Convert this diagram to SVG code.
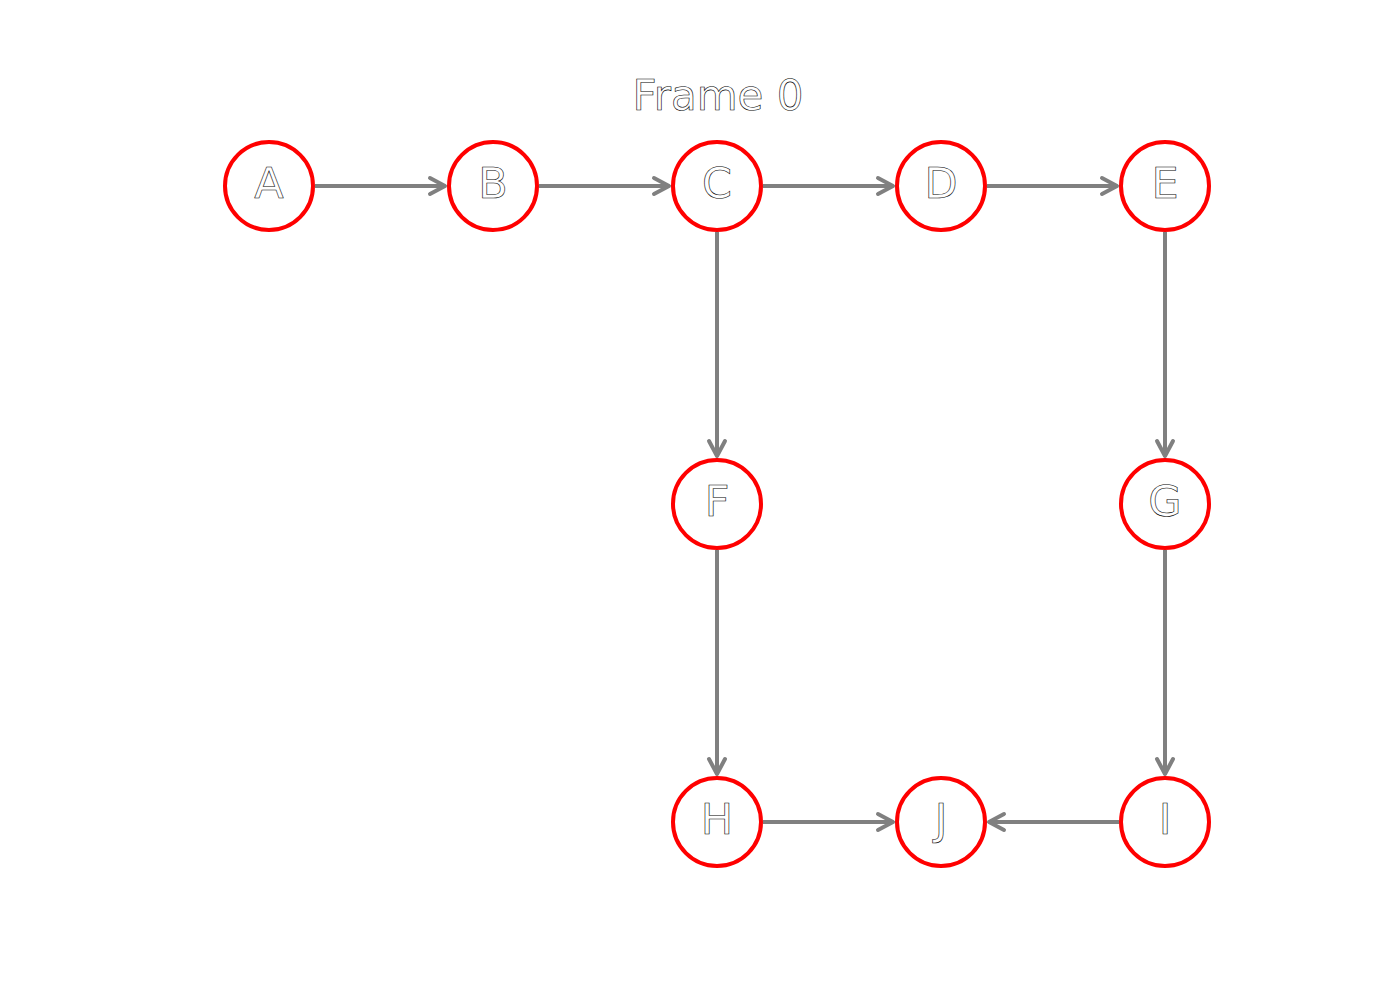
<svg xmlns="http://www.w3.org/2000/svg" width="1400" height="1000" viewBox="0 0 1400 1000">
<style>
.node circle{fill:#fff;stroke:#ff0000;stroke-width:4}
.lbl{font-family:"DejaVu Sans",sans-serif;font-size:43px;fill:#fff;stroke:#000;stroke-width:0.6;text-anchor:middle}
.title{font-family:"DejaVu Sans",sans-serif;font-size:42px;fill:#fff;stroke:#000;stroke-width:0.6;text-anchor:middle}
.edge{stroke:#808080;stroke-width:4;fill:none;marker-end:url(#arr)}
</style>
<defs>
<marker id="arr" markerUnits="userSpaceOnUse" markerWidth="30" markerHeight="30" viewBox="-20 -15 30 30" refX="0" refY="0" orient="auto">
<path d="M-15,-8 L0,0 L-15,8" fill="none" stroke="#808080" stroke-width="4" stroke-linecap="round" stroke-linejoin="round"/>
</marker>
</defs>
<rect width="1400" height="1000" fill="#fff"/>
<text class="title" x="718" y="110">Frame 0</text>
<g id="edges">
<line class="edge" x1="315" y1="186" x2="445" y2="186"/>
<line class="edge" x1="539" y1="186" x2="669" y2="186"/>
<line class="edge" x1="763" y1="186" x2="893" y2="186"/>
<line class="edge" x1="987" y1="186" x2="1117" y2="186"/>
<line class="edge" x1="717" y1="232" x2="717" y2="456"/>
<line class="edge" x1="1165" y1="232" x2="1165" y2="456"/>
<line class="edge" x1="717" y1="550" x2="717" y2="774"/>
<line class="edge" x1="1165" y1="550" x2="1165" y2="774"/>
<line class="edge" x1="763" y1="822" x2="893" y2="822"/>
<line class="edge" x1="1119" y1="822" x2="989" y2="822"/>
</g>
<g id="A" class="node"><circle cx="269" cy="186" r="44"/><text class="lbl" x="269" y="198">A</text></g>
<g id="B" class="node"><circle cx="493" cy="186" r="44"/><text class="lbl" x="493" y="198">B</text></g>
<g id="C" class="node"><circle cx="717" cy="186" r="44"/><text class="lbl" x="717" y="198">C</text></g>
<g id="D" class="node"><circle cx="941" cy="186" r="44"/><text class="lbl" x="941" y="198">D</text></g>
<g id="E" class="node"><circle cx="1165" cy="186" r="44"/><text class="lbl" x="1165" y="198">E</text></g>
<g id="F" class="node"><circle cx="717" cy="504" r="44"/><text class="lbl" x="717" y="516">F</text></g>
<g id="G" class="node"><circle cx="1165" cy="504" r="44"/><text class="lbl" x="1165" y="516">G</text></g>
<g id="H" class="node"><circle cx="717" cy="822" r="44"/><text class="lbl" x="717" y="834">H</text></g>
<g id="J" class="node"><circle cx="941" cy="822" r="44"/><text class="lbl" x="941" y="834">J</text></g>
<g id="I" class="node"><circle cx="1165" cy="822" r="44"/><text class="lbl" x="1165" y="834">I</text></g>
</svg>
